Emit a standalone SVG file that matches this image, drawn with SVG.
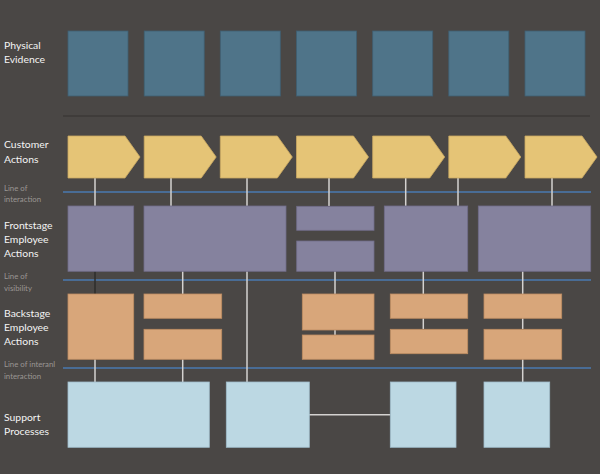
<svg xmlns="http://www.w3.org/2000/svg" width="600" height="474" viewBox="0 0 600 474">
<style>
.lbl{font-family:Lato,"Open Sans","DejaVu Sans",sans-serif;font-size:10.4px;fill:#f4f4f4}
.sub{font-family:Lato,"Open Sans","DejaVu Sans",sans-serif;font-size:7.8px;fill:#9a9693}
.pe{fill:#4f7489;stroke:#3f5f72;stroke-width:0.8}
.ca{fill:#e5c476;stroke:#c9a862;stroke-width:0.8}
.fe{fill:#85829e;stroke:#6f6c88;stroke-width:0.8}
.be{fill:#d8a67a;stroke:#bd8c62;stroke-width:0.8}
.sp{fill:#bcd8e3;stroke:#9fbccb;stroke-width:0.8}
.sep{stroke:#4a78b0;stroke-width:1.6}
.con{stroke:#d4d2d0;stroke-width:1.5;fill:none}
</style>
<rect x="0" y="0" width="600" height="474" fill="#4a4745"/>
<g id="labels">
<text class="lbl" x="4" y="48.5">Physical</text>
<text class="lbl" x="4" y="63">Evidence</text>
<text class="lbl" x="4" y="148.3">Customer</text>
<text class="lbl" x="4" y="162.7">Actions</text>
<text class="sub" x="4" y="191.3">Line of</text>
<text class="sub" x="4" y="202.3">interaction</text>
<text class="lbl" x="4" y="229">Frontstage</text>
<text class="lbl" x="4" y="243">Employee</text>
<text class="lbl" x="4" y="257">Actions</text>
<text class="sub" x="4" y="279.3">Line of</text>
<text class="sub" x="4" y="290.5">visibility</text>
<text class="lbl" x="4" y="317">Backstage</text>
<text class="lbl" x="4" y="331">Employee</text>
<text class="lbl" x="4" y="345">Actions</text>
<text class="sub" x="4" y="367">Line of interanl</text>
<text class="sub" x="4" y="378.5">interaction</text>
<text class="lbl" x="4" y="421">Support</text>
<text class="lbl" x="4" y="434.5">Processes</text>
</g>
<g id="separators">
<line x1="63" y1="116" x2="590" y2="116" stroke="#3c3937" stroke-width="1.6"/>
<line class="sep" x1="63" y1="192" x2="591" y2="192"/>
<line class="sep" x1="63" y1="280" x2="591" y2="280"/>
<line class="sep" x1="63" y1="368" x2="591" y2="368"/>
</g>
<g id="connectors">
<line class="con" x1="95" y1="178" x2="95" y2="206"/>
<line class="con" x1="171" y1="178" x2="171" y2="206"/>
<line class="con" x1="247" y1="178" x2="247" y2="382"/>
<line class="con" x1="329" y1="178" x2="329" y2="206"/>
<line class="con" x1="405.7" y1="178" x2="405.7" y2="206"/>
<line class="con" x1="458" y1="178" x2="458" y2="206"/>
<line class="con" x1="552" y1="178" x2="552" y2="206"/>
<line x1="95" y1="271" x2="95" y2="294" stroke="#2e2c2b" stroke-width="1.5"/>
<line class="con" x1="182.7" y1="271" x2="182.7" y2="294"/>
<line class="con" x1="335" y1="271" x2="335" y2="294"/>
<line class="con" x1="335" y1="330" x2="335" y2="335"/>
<line class="con" x1="423.3" y1="271" x2="423.3" y2="294"/>
<line class="con" x1="423.3" y1="318" x2="423.3" y2="329"/>
<line class="con" x1="522.7" y1="271" x2="522.7" y2="294"/>
<line class="con" x1="522.7" y1="318" x2="522.7" y2="329"/>
<line class="con" x1="522.7" y1="359" x2="522.7" y2="382"/>
<line class="con" x1="95" y1="359" x2="95" y2="382"/>
<line class="con" x1="182.7" y1="359" x2="182.7" y2="382"/>
<line class="con" x1="309" y1="414.7" x2="390.5" y2="414.7"/>
</g>
<g id="physical-evidence">
<rect id="pe1" class="pe" x="68" y="31" width="60" height="65"/>
<rect id="pe2" class="pe" x="144.2" y="31" width="60" height="65"/>
<rect id="pe3" class="pe" x="220.3" y="31" width="60" height="65"/>
<rect id="pe4" class="pe" x="296.5" y="31" width="60" height="65"/>
<rect id="pe5" class="pe" x="372.7" y="31" width="60" height="65"/>
<rect id="pe6" class="pe" x="448.8" y="31" width="60" height="65"/>
<rect id="pe7" class="pe" x="525" y="31" width="60" height="65"/>
</g>
<g id="customer-actions">
<polygon id="ca1" class="ca" points="68,136 125,136 140,157 125,178 68,178"/>
<polygon id="ca2" class="ca" points="144.2,136 201.2,136 216.2,157 201.2,178 144.2,178"/>
<polygon id="ca3" class="ca" points="220.3,136 277.3,136 292.3,157 277.3,178 220.3,178"/>
<polygon id="ca4" class="ca" points="296.5,136 353.5,136 368.5,157 353.5,178 296.5,178"/>
<polygon id="ca5" class="ca" points="372.7,136 429.7,136 444.7,157 429.7,178 372.7,178"/>
<polygon id="ca6" class="ca" points="448.8,136 505.8,136 520.8,157 505.8,178 448.8,178"/>
<polygon id="ca7" class="ca" points="525,136 582,136 597,157 582,178 525,178"/>
</g>
<g id="frontstage">
<rect id="fe1" class="fe" x="68" y="206" width="65.7" height="65.3"/>
<rect id="fe2" class="fe" x="144" y="206" width="142" height="65.3"/>
<rect id="fe3a" class="fe" x="296.7" y="206.3" width="77.3" height="24"/>
<rect id="fe3b" class="fe" x="296.7" y="241" width="77.3" height="30.3"/>
<rect id="fe4" class="fe" x="384.3" y="206" width="83.4" height="65.3"/>
<rect id="fe5" class="fe" x="478.3" y="206" width="112.4" height="65.3"/>
</g>
<g id="backstage">
<rect id="be1" class="be" x="68" y="294" width="65.7" height="65.3"/>
<rect id="be2a" class="be" x="144" y="294" width="77.7" height="24.3"/>
<rect id="be2b" class="be" x="144" y="329.3" width="77.7" height="30"/>
<rect id="be3a" class="be" x="302.3" y="294" width="71.7" height="36"/>
<rect id="be3b" class="be" x="302.3" y="335" width="71.7" height="24.3"/>
<rect id="be4a" class="be" x="390.3" y="294" width="77.4" height="24.3"/>
<rect id="be4b" class="be" x="390.3" y="329.3" width="77.4" height="24.4"/>
<rect id="be5a" class="be" x="484" y="294" width="77.7" height="24.3"/>
<rect id="be5b" class="be" x="484" y="329.3" width="77.7" height="30"/>
</g>
<g id="support">
<rect id="sp1" class="sp" x="68" y="382" width="141.3" height="65.3"/>
<rect id="sp2" class="sp" x="226.3" y="382" width="83" height="65.3"/>
<rect id="sp3" class="sp" x="390.3" y="382" width="65.7" height="65.3"/>
<rect id="sp4" class="sp" x="484" y="382" width="65.7" height="65.3"/>
</g>
</svg>
